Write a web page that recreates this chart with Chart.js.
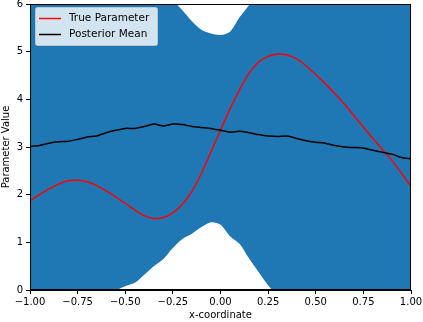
<!DOCTYPE html>
<html>
<head>
<meta charset="utf-8">
<script src="https://cdn.jsdelivr.net/npm/chart.js@4"></script>
<style>
  html, body { margin: 0; padding: 0; background: #fff; }
  #wrap { width: 423px; height: 322px; }
</style>
</head>
<body>
<div id="wrap"><canvas id="chart" width="423" height="322"></canvas></div>
<script>
// x positions of the samples
var xs = [-1.00, -0.95, -0.90, -0.85, -0.80, -0.75, -0.70, -0.65, -0.60, -0.55,
          -0.50, -0.45, -0.40, -0.35, -0.30, -0.25, -0.20, -0.15, -0.10, -0.05,
           0.00,  0.05,  0.10,  0.15,  0.20,  0.25,  0.30,  0.35,  0.40,  0.45,
           0.50,  0.55,  0.60,  0.65,  0.70,  0.75,  0.80,  0.85,  0.90,  0.95, 1.00];

var trueParam = [1.87, 2.00, 2.12, 2.22, 2.29, 2.30, 2.27, 2.19, 2.08, 1.95,
                 1.82, 1.68, 1.56, 1.50, 1.52, 1.62, 1.80, 2.07, 2.45, 2.90,
                 3.35, 3.80, 4.20, 4.55, 4.78, 4.90, 4.95, 4.93, 4.85, 4.70,
                 4.52, 4.33, 4.12, 3.90, 3.66, 3.42, 3.18, 2.95, 2.72, 2.45, 2.17];

var postMean = [3.01, 3.03, 3.08, 3.11, 3.12, 3.16, 3.21, 3.23, 3.30, 3.35,
                3.39, 3.39, 3.43, 3.48, 3.44, 3.48, 3.47, 3.43, 3.41, 3.39,
                3.35, 3.31, 3.33, 3.30, 3.26, 3.23, 3.22, 3.23, 3.18, 3.13,
                3.10, 3.08, 3.03, 3.00, 2.99, 2.98, 2.93, 2.89, 2.85, 2.78, 2.75];

// credible band (runs past the axis limits where it is clipped)
var upper = [6.5, 6.5, 6.5, 6.5, 6.5, 6.5, 6.5, 6.5, 6.5, 6.5,
             6.5, 6.5, 6.5, 6.5, 6.3, 6.08, 5.87, 5.64, 5.46, 5.38,
             5.35, 5.42, 5.72, 5.98, 6.3, 6.5, 6.5, 6.5, 6.5, 6.5,
             6.5, 6.5, 6.5, 6.5, 6.5, 6.5, 6.5, 6.5, 6.5, 6.5, 6.5];

var lower = [-0.5, -0.5, -0.5, -0.5, -0.5, -0.5, -0.5, -0.5, -0.3, -0.02,
             0.08, 0.15, 0.32, 0.50, 0.65, 0.88, 1.07, 1.18, 1.32, 1.42,
             1.37, 1.13, 0.97, 0.66, 0.38, 0.10, -0.15, -0.5, -0.5, -0.5,
             -0.5, -0.5, -0.5, -0.5, -0.5, -0.5, -0.5, -0.5, -0.5, -0.5, -0.5];

var xTicks = [-1, -0.75, -0.5, -0.25, 0, 0.25, 0.5, 0.75, 1];
var yTicks = [0, 1, 2, 3, 4, 5, 6];

function pts(ys) {
  return xs.map(function (x, i) { return { x: x, y: ys[i] }; });
}

Chart.defaults.font.family = 'DejaVu Sans';
Chart.defaults.font.size = 10;
Chart.defaults.color = '#000';

// legend drawn inside the plot like matplotlib's
var insideLegend = {
  id: 'insideLegend',
  afterDatasetsDraw: function (chart) {
    var ctx = chart.ctx;
    var a = chart.chartArea;
    var x0 = a.left + 5, y0 = a.top + 3, w = 122, h = 38;
    ctx.save();
    ctx.fillStyle = 'rgba(255,255,255,0.8)';
    ctx.strokeStyle = 'rgba(204,204,204,0.8)';
    ctx.lineWidth = 1;
    ctx.beginPath();
    ctx.roundRect(x0 + 0.5, y0 + 0.5, w, h, 2);
    ctx.fill();
    ctx.stroke();
    var items = [['True Parameter', 'red'], ['Posterior Mean', 'black']];
    ctx.font = '10.5px "DejaVu Sans"';
    ctx.textBaseline = 'middle';
    items.forEach(function (it, i) {
      var yy = y0 + 11.5 + i * 16;
      ctx.strokeStyle = it[1];
      ctx.lineWidth = 1.5;
      ctx.beginPath();
      ctx.moveTo(x0 + 4, yy);
      ctx.lineTo(x0 + 26, yy);
      ctx.stroke();
      ctx.fillStyle = '#000';
      ctx.fillText(it[0], x0 + 34, yy);
    });
    ctx.restore();
  }
};

var ctx = document.getElementById('chart').getContext('2d');
new Chart(ctx, {
  type: 'line',
  data: {
    datasets: [
      {
        label: 'upper',
        data: pts(upper),
        borderWidth: 0,
        pointRadius: 0,
        backgroundColor: '#1f77b4',
        fill: '+1',
        tension: 0.3,
        order: 5
      },
      {
        label: 'lower',
        data: pts(lower),
        borderWidth: 0,
        pointRadius: 0,
        backgroundColor: '#1f77b4',
        fill: false,
        tension: 0.3,
        order: 5
      },
      {
        label: 'True Parameter',
        data: pts(trueParam),
        borderColor: 'red',
        borderWidth: 1.5,
        pointRadius: 0,
        fill: false,
        tension: 0.4,
        order: 1
      },
      {
        label: 'Posterior Mean',
        data: pts(postMean),
        borderColor: 'black',
        borderWidth: 1.5,
        pointRadius: 0,
        fill: false,
        tension: 0.2,
        order: 0
      }
    ]
  },
  options: {
    responsive: false,
    animation: false,
    layout: { padding: 0 },
    plugins: {
      legend: { display: false },
      tooltip: { enabled: false },
      filler: { drawTime: 'beforeDatasetsDraw' }
    },
    scales: {
      x: {
        type: 'linear',
        min: -1,
        max: 1,
        afterBuildTicks: function (s) { s.ticks = xTicks.map(function (v) { return { value: v }; }); },
        afterFit: function (s) { s.height = 32; s.paddingRight = 12; s.paddingLeft = 0; },
        ticks: {
          padding: 2,
          maxRotation: 0,
          callback: function (v) { return (v < 0 ? '\u2212' : '') + Math.abs(v).toFixed(2); }
        },
        grid: { drawOnChartArea: false, drawTicks: true, tickLength: 4, color: '#000' },
        border: { display: true, color: '#000', width: 1 },
        title: { display: true, text: 'x-coordinate', padding: { top: 0, bottom: 1 } }
      },
      y: {
        min: 0,
        max: 6,
        afterBuildTicks: function (s) { s.ticks = yTicks.map(function (v) { return { value: v }; }); },
        afterFit: function (s) { s.width = 30; s.paddingTop = 4; s.paddingBottom = 0; },
        ticks: { padding: 3 },
        grid: { drawOnChartArea: false, drawTicks: true, tickLength: 4, color: '#000' },
        border: { display: true, color: '#000', width: 1 },
        title: { display: true, text: 'Parameter Value', padding: { top: 0, bottom: 0 } }
      }
    }
  },
  plugins: [insideLegend, {
    id: 'frame',
    afterDraw: function (chart) {
      var a = chart.chartArea, c = chart.ctx;
      c.save();
      c.strokeStyle = '#000';
      c.lineWidth = 1;
      c.strokeRect(a.left + 0.5, a.top + 0.5, a.right - a.left - 1, a.bottom - a.top - 1);
      c.restore();
    }
  }]
});
</script>
</body>
</html>
